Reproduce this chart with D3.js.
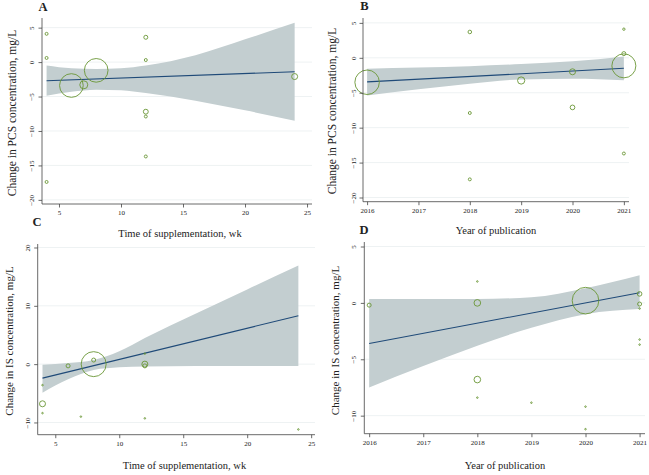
<!DOCTYPE html>
<html><head><meta charset="utf-8">
<script src="https://cdn.jsdelivr.net/npm/d3@7/dist/d3.min.js"></script>
<style>body{margin:0;background:#fff}svg{display:block}text{font-family:"Liberation Serif","Times New Roman",serif;fill:#222}</style>
</head><body><svg id="c" width="649" height="475"></svg>
<script>
// ---------- DATA ----------
// Panel A: PCS vs time of supplementation (wk)
const aX = [4, 4, 4, 6, 7, 8, 12, 12, 12, 12, 12, 24];
const aY = [4.1, 0.6, -17.4, -3.4, -3.3, -1.2, 3.6, 0.3, -7.2, -7.9, -13.7, -2.1];
const aW = [2.2, 2.2, 2.2, 140, 16, 140, 4, 2.2, 6, 2.2, 2.2, 9];
const aFitX = [4, 24];
const aFitY = [-2.7, -1.4];
const aBandX = [4, 6, 8, 10, 12, 16, 20, 24];
const aBandLo = [-4.9, -4.3, -4.0, -4.1, -4.5, -5.6, -7.0, -8.5];
const aBandHi = [-0.5, -0.9, -1.0, -0.9, -0.5, 1.0, 3.3, 5.7];
const aXTicks = [5, 10, 15, 20, 25];
const aYTicks = [5, 0, -5, -10, -15, -20];

// Panel B: PCS vs year of publication
const bX = [2016, 2018, 2018, 2018, 2019, 2020, 2020, 2021, 2021, 2021, 2021];
const bY = [-3.5, 3.7, -7.9, -17.4, -3.25, -2.0, -7.1, 4.1, 0.6, -1.15, -13.7];
const bW = [150, 3.2, 2.2, 2.2, 13, 9, 5.5, 1.4, 4, 144, 2.2];
const bFitX = [2016, 2021];
const bFitY = [-3.45, -1.5];
const bBandX = [2016, 2017, 2018, 2019, 2020, 2021];
const bBandLo = [-5.4, -4.5, -3.7, -3.1, -3.0, -3.2];
const bBandHi = [-1.55, -1.4, -1.2, -0.9, -0.5, 0.2];
const bXTicks = [2016, 2017, 2018, 2019, 2020, 2021];
const bYTicks = [5, 0, -5, -10, -15, -20];

// Panel C: IS vs time of supplementation (wk)
const cX = [4, 4, 4, 6, 7, 8, 8, 12, 12, 12, 12, 24];
const cY = [-6.8, -8.4, -3.6, -0.3, -9.0, 0.7, 0.0, 0.0, -0.3, 1.8, -9.3, -11.2];
const cW = [9, 0.6, 0.6, 4, 0.6, 4, 156, 9, 4, 0.6, 0.6, 0.6];
const cFitX = [4, 24];
const cFitY = [-2.4, 8.3];
const cBandX = [4, 6, 8, 10, 12, 16, 20, 24];
const cBandLo = [-4.9, -2.6, -1.0, -0.55, -0.4, -0.3, -0.3, -0.3];
const cBandHi = [-0.1, 0.2, 0.7, 2.2, 4.5, 8.7, 12.8, 16.9];
const cXTicks = [5, 10, 15, 20, 25];
const cYTicks = [20, 10, 0, -10];

// Panel D: IS vs year of publication
const dX = [2016, 2018, 2018, 2018, 2018, 2019, 2020, 2020, 2020, 2021, 2021, 2021, 2021, 2021];
const dY = [-0.2, 1.9, 0.0, -6.8, -8.4, -8.85, 0.2, -9.2, -11.2, 0.8, -0.1, -0.5, -3.25, -3.7];
const dW = [4, 0.6, 11, 11, 0.6, 0.6, 177, 0.6, 0.6, 5.3, 4, 0.6, 0.6, 0.6];
const dFitX = [2016, 2021];
const dFitY = [-3.6, 0.9];
const dBandX = [2016, 2017, 2018, 2019, 2020, 2021];
const dBandLo = [-7.5, -5.6, -3.8, -2.2, -1.0, -0.55];
const dBandHi = [0.35, 0.35, 0.35, 0.5, 1.3, 2.45];
const dXTicks = [2016, 2017, 2018, 2019, 2020, 2021];
const dYTicks = [5, 0, -5, -10];

// ---------- DRAW ----------
const svg = d3.select("#c");
const rScale = d3.scaleSqrt().domain([0, 144]).range([0, 12]);

function panel(o) {
  const g = svg.append("g");
  const x = d3.scaleLinear().domain(o.xd).range(o.xr);
  const y = d3.scaleLinear().domain(o.yd).range(o.yr);
  // gridlines
  g.selectAll(".grid").data(o.yTicks).join("line")
    .attr("x1", o.xr[0]).attr("x2", o.xr[1])
    .attr("y1", d => y(d)).attr("y2", d => y(d))
    .attr("stroke", "#eef2f3").attr("stroke-width", 1);
  // band
  const band = o.bandX.map((v, i) => [v, o.lo[i], o.hi[i]]);
  g.append("path").datum(band)
    .attr("d", d3.area().x(d => x(d[0])).y0(d => y(d[1])).y1(d => y(d[2])).curve(d3.curveMonotoneX))
    .attr("fill", "#c3ced0");
  // fit line
  g.append("path").datum(o.fitX.map((v, i) => [v, o.fitY[i]]))
    .attr("d", d3.line().x(d => x(d[0])).y(d => y(d[1])))
    .attr("fill", "none").attr("stroke", "#1f4a78").attr("stroke-width", 1.1);
  // points
  g.selectAll(".pt").data(o.px.map((v, i) => [v, o.py[i], o.pw[i]])).join("circle")
    .attr("cx", d => x(d[0])).attr("cy", d => y(d[1])).attr("r", d => Math.max(0.6, rScale(d[2])))
    .attr("fill", "none").attr("stroke", "#6a9636").attr("stroke-width", 0.9);
  // axes
  const ax = g.append("g").attr("transform", `translate(0,${o.yr[0]})`)
    .call(d3.axisBottom(x).tickValues(o.xTicks).tickSize(3.5).tickPadding(3).tickFormat(d3.format("d")));
  ax.select(".domain").attr("d", `M${o.xr[0]},0H${o.xr[1]}`);
  const ay = g.append("g").attr("transform", `translate(${o.xr[0]},0)`)
    .call(d3.axisLeft(y).tickValues(o.yTicks).tickSize(3.5).tickFormat(d3.format("d")));
  ay.select(".domain").attr("d", `M0,${o.yr[0]}V${o.yr[1]}`);
  [ax, ay].forEach(a => {
    a.selectAll(".domain").attr("stroke", "#444").attr("stroke-width", 0.8);
    a.selectAll(".tick line").attr("stroke", "#444").attr("stroke-width", 0.8);
    a.selectAll("text").attr("font-size", 7).attr("fill", "#333")
      .attr("font-family", "Liberation Serif, serif");
  });
  ay.selectAll(".tick text").attr("x", null).attr("dy", null)
    .attr("text-anchor", "middle").attr("dominant-baseline", "central")
    .attr("transform", d => `translate(${o.ylabX - o.xr[0]},0) rotate(-90)`);
  // titles
  g.append("text").attr("x", o.xtX).attr("y", o.xtY).attr("text-anchor", "middle")
    .attr("font-size", o.xtFs).text(o.xTitle);
  g.append("text").attr("transform", `translate(${o.ytX},${o.ytY}) rotate(-90)`)
    .attr("text-anchor", "middle").attr("dominant-baseline", "central")
    .attr("font-size", o.ytFs).text(o.yTitle);
  g.append("text").attr("x", o.lbX).attr("y", o.lbY).attr("text-anchor", "middle")
    .attr("font-size", 12.5).attr("font-weight", "bold").text(o.label);
}

panel({label: "A", lbX: 43, lbY: 10.5,
  xd: [3.63, 25.4], xr: [42, 312], yd: [-20.6, 6.4], yr: [204, 18],
  xTicks: aXTicks, yTicks: aYTicks, ylabX: 31.5,
  bandX: aBandX, lo: aBandLo, hi: aBandHi, fitX: aFitX, fitY: aFitY,
  px: aX, py: aY, pw: aW,
  xTitle: "Time of supplementation, wk", xtX: 180, xtY: 236.5, xtFs: 10.5,
  yTitle: "Change in PCS concentration, mg/L", ytX: 12.3, ytY: 113, ytFs: 11.5});

panel({label: "B", lbX: 364.5, lbY: 9.5,
  xd: [2015.92, 2021.1], xr: [363, 629], yd: [-20.6, 5.7], yr: [201.7, 18],
  xTicks: bXTicks, yTicks: bYTicks, ylabX: 354,
  bandX: bBandX, lo: bBandLo, hi: bBandHi, fitX: bFitX, fitY: bFitY,
  px: bX, py: bY, pw: bW,
  xTitle: "Year of publication", xtX: 496, xtY: 233.5, xtFs: 10.5,
  yTitle: "Change in PCS concentration, mg/L", ytX: 332, ytY: 111, ytFs: 11.5});

panel({label: "C", lbX: 37, lbY: 225.5,
  xd: [3.625, 25.3], xr: [37.7, 315], yd: [-12.1, 20.6], yr: [434.7, 244],
  xTicks: cXTicks, yTicks: cYTicks, ylabX: 28.3,
  bandX: cBandX, lo: cBandLo, hi: cBandHi, fitX: cFitX, fitY: cFitY,
  px: cX, py: cY, pw: cW,
  xTitle: "Time of supplementation, wk", xtX: 184.5, xtY: 468.5, xtFs: 10.5,
  yTitle: "Change in IS concentration, mg/L", ytX: 8.8, ytY: 341, ytFs: 11});

panel({label: "D", lbX: 364, lbY: 233.5,
  xd: [2015.91, 2021.1], xr: [364.3, 645], yd: [-11.6, 5.4], yr: [433.7, 242],
  xTicks: dXTicks, yTicks: dYTicks, ylabX: 354.3,
  bandX: dBandX, lo: dBandLo, hi: dBandHi, fitX: dFitX, fitY: dFitY,
  px: dX, py: dY, pw: dW,
  xTitle: "Year of publication", xtX: 505, xtY: 468.5, xtFs: 10.5,
  yTitle: "Change in IS concentration, mg/L", ytX: 335, ytY: 340.5, ytFs: 11});
</script></body></html>
